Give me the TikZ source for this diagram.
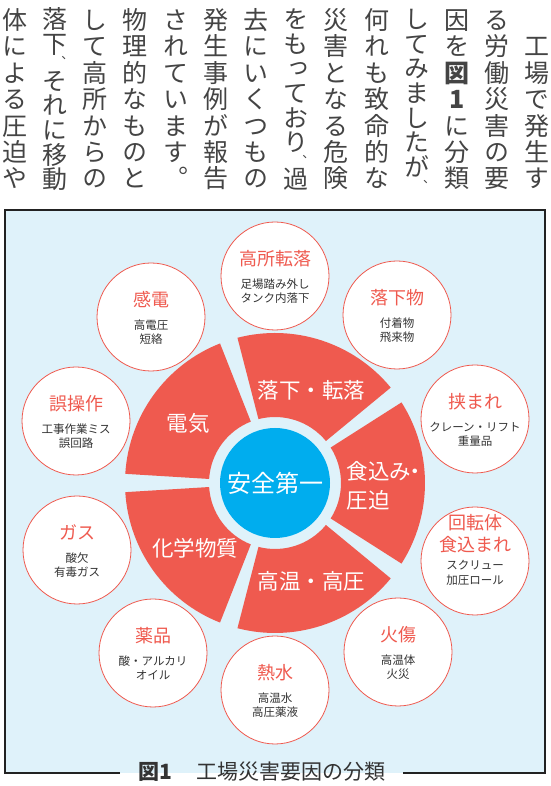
\documentclass[tikz,border=0pt]{standalone}
\usepackage{fontspec}
\setmainfont{Noto Sans CJK JP}
\newfontfamily\vjp[RawFeature=+vert]{Noto Sans CJK JP}
\usetikzlibrary{calc}
\definecolor{bgblue}{HTML}{DFF2FA}
\definecolor{sred}{HTML}{EF5A4F}
\definecolor{hubblue}{HTML}{00ADEE}
\definecolor{txt}{HTML}{333333}
\definecolor{bodytxt}{HTML}{444444}
\definecolor{framec}{HTML}{222222}
\tikzset{
  vch/.style={inner sep=0pt, text height=22pt, text depth=3pt, anchor=center,
    font=\vjp\fontsize{25}{25}\selectfont, text=bodytxt},
  vpunct/.style={inner sep=0pt, text height=10.8pt, text depth=1.5pt, anchor=center,
    font=\vjp\fontsize{12.3}{12.3}\selectfont, text=bodytxt, xshift=5pt},
  circ/.style={circle, draw=sred, line width=0.8pt, fill=white, minimum size=108pt, inner sep=0pt},
  ttl/.style={inner sep=0pt, text height=15.84pt, text depth=2.16pt, anchor=center,
    font=\fontsize{18}{18}\selectfont, text=sred},
  subt/.style={inner sep=0pt, text height=10.1pt, text depth=1.4pt, anchor=center,
    font=\fontsize{11.5}{11.5}\selectfont, text=txt},
  seglbl/.style={inner sep=0pt, text height=18.9pt, text depth=2.6pt, anchor=center,
    font=\fontsize{21.5}{21.5}\selectfont, text=white},
  hubtxt/.style={inner sep=0pt, text height=21.1pt, text depth=2.9pt, anchor=center,
    font=\fontsize{24}{24}\selectfont, text=white},
  capt/.style={inner sep=0pt, text height=18.5pt, text depth=2.5pt, anchor=center,
    font=\fontsize{21}{21}\selectfont, text=txt},
}
\def\halfA{、}
\newcommand\vcol[5]{%
  \gdef\vpos{#4}%
  \foreach \ch [count=\i] in {#5}{%
    \ifx\ch\halfA\def\cw{0.5}\def\vsty{vpunct}\else\def\cw{1}\def\vsty{vch}\fi
    \pgfmathsetmacro\vcen{\vpos+\cw/2}%
    \node[\vsty] (v#1-\i) at (#2,{779.2-#3*\vcen}) {\ch};
    \pgfmathsetmacro\vnext{\vpos+\cw}%
    \xdef\vpos{\vnext}%
  }%
}
\newcommand\gcirc[6]{%
  \node[circ] (#1) at (#2,#3) {};
  \node[ttl] (#1t) at ($(#1)+(0,17)$) {#4};
  \node[subt] (#1a) at ($(#1)+(0,-8)$) {#5};
  \node[subt] (#1b) at ($(#1)+(0,-22)$) {#6};
}
\begin{document}
\begin{tikzpicture}[x=1pt,y=1pt]
\useasboundingbox (0,0) rectangle (550,786);
\fill[white] (0,0) rectangle (550,786);
% body text (vertical)
\vcol{0}{537.3}{26.4}{1}{工,場,で,発,生,す}
\vcol{1}{497.1}{26.4}{0}{る,労,働,災,害,の,要}
\vcol{2}{456.9}{26.4}{0}{因,を,{\bfseries 図},{\bfseries 1},に,分,類}
\vcol{3}{416.7}{24.64}{0}{し,て,み,ま,し,た,が,、}
\vcol{4}{376.5}{26.4}{0}{何,れ,も,致,命,的,な}
\vcol{5}{336.3}{26.4}{0}{災,害,と,な,る,危,険}
\vcol{6}{296.1}{24.64}{0}{を,も,っ,て,お,り,、,過}
\vcol{7}{255.9}{26.4}{0}{去,に,い,く,つ,も,の}
\vcol{8}{215.7}{26.4}{0}{発,生,事,例,が,報,告}
\vcol{9}{175.5}{26.4}{0}{さ,れ,て,い,ま,す,。}
\vcol{10}{135.3}{26.4}{0}{物,理,的,な,も,の,と}
\vcol{11}{95.1}{26.4}{0}{し,て,高,所,か,ら,の}
\vcol{12}{54.9}{24.64}{0}{落,下,、,そ,れ,に,移,動}
\vcol{13}{14.7}{26.4}{0}{体,に,よ,る,圧,迫,や}
% frame
\fill[bgblue] (5,13) rectangle (545,576);
\draw[framec, line width=2.2pt] (120,13) -- (5,13) -- (5,576) -- (545,576) -- (545,13) -- (403,13);
% hub sectors
\coordinate (H) at (275,303);
\foreach \a [count=\k] in {72,0,-72,-144,144} {
  \fill[sred] ($(H)+({\a-32.5}:66pt)$) arc[start angle=\a-32.5, end angle=\a+32.5, radius=66pt]
    -- ($(H)+({\a+32.5}:150pt)$) arc[start angle=\a+32.5, end angle=\a-32.5, radius=150pt] -- cycle;
}
\node[circle, fill=hubblue, minimum size=110pt, inner sep=0pt] (hub) at (H) {};
\node[hubtxt] (hubt) at (hub) {安全第一};
\node[seglbl] (s1) at (311.7,396) {落下・転落};
\node[seglbl] (s2) at (188.3,362.7) {電気};
\node[seglbl, anchor=west] (s3a) at (346.7,314.3) {食込み\kern-7pt・};
\node[seglbl, anchor=west] (s3b) at (346.7,286) {圧迫};
\node[seglbl] (s4) at (195,237.7) {化学物質};
\node[seglbl] (s5) at (311.7,204.3) {高温・高圧};
% outer circles
\gcirc{g1}{275}{510}{高所転落}{足場踏み外し}{タンク内落下}
\gcirc{g2}{397}{471}{落下物}{付着物}{飛来物}
\gcirc{g3}{475}{367}{挟まれ}{クレーン・リフト}{重量品}
\node[circ] (g4) at (475,225) {};
\node[ttl] (g4t) at (475,263) {回転体};
\node[ttl] (g4u) at (475,241) {食込まれ};
\node[subt] (g4a) at (475,221) {スクリュー};
\node[subt] (g4b) at (475,206) {加圧ロール};
\gcirc{g5}{398}{134}{火傷}{高温体}{火災}
\gcirc{g6}{275}{96}{熱水}{高温水}{高圧薬液}
\gcirc{g7}{153}{133}{薬品}{酸・アルカリ}{オイル}
\gcirc{g8}{77}{236}{ガス}{酸欠}{有毒ガス}
\gcirc{g9}{76}{365}{誤操作}{工事作業ミス}{誤回路}
\gcirc{g10}{151}{469}{感電}{高電圧}{短絡}
% caption
\node[capt, font=\bfseries\fontsize{21}{21}\selectfont] (cap1) at (155,14) {図1};
\node[capt] (cap2) at (291,14) {工場災害要因の分類};
\end{tikzpicture}
\end{document}
